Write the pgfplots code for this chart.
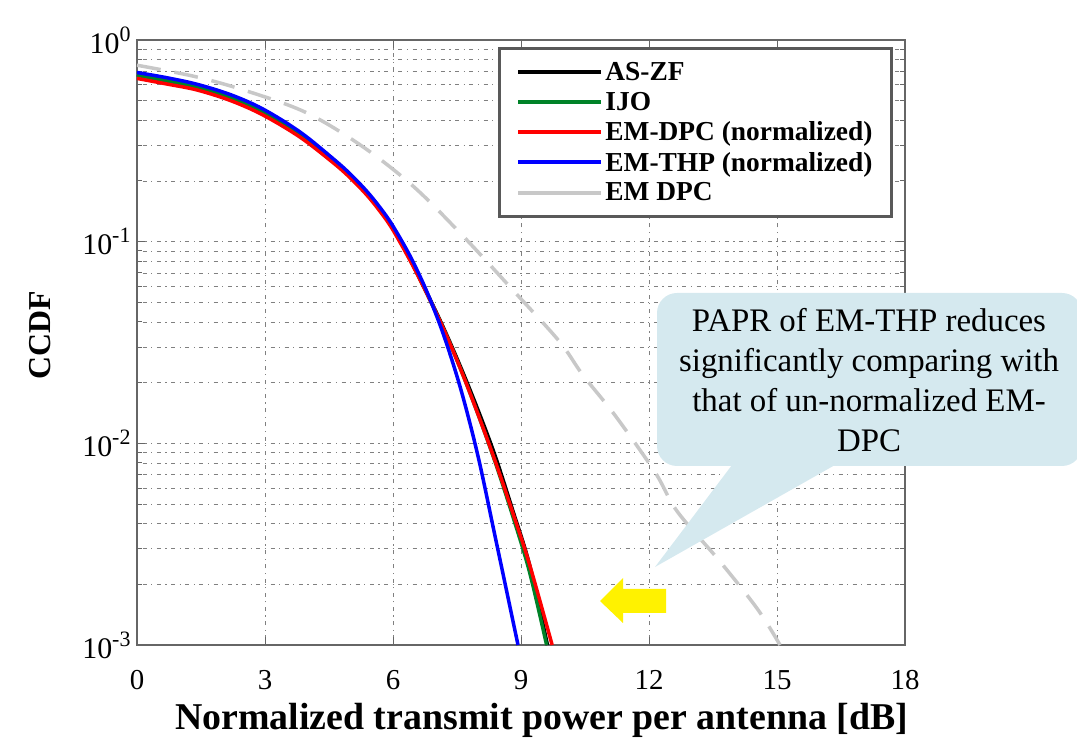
\documentclass[border=0pt]{standalone}
\usepackage{pgfplots}
\pgfplotsset{compat=1.18}
\usepackage{fontspec}
\setmainfont{Liberation Serif}
\definecolor{calloutfill}{RGB}{213,233,239}
\definecolor{mygreen}{RGB}{0,130,40}
\definecolor{mygray}{RGB}{200,200,200}
\newcommand{\tp}[1]{10\raisebox{12bp}{\fontsize{22}{22}\selectfont #1}}
\begin{document}
\begin{tikzpicture}[x=1bp,y=1bp]
\begin{axis}[
  at={(0,0)}, anchor=south west,
  width=768bp, height=605bp, scale only axis,
  xmin=0, xmax=18, ymode=log, ymin=1e-3, ymax=1,
  xtick={0,3,6,9,12,15,18},
  ytick={1e-3,1e-2,1e-1,1},
  yticklabels={\tp{-3},\tp{-2},\tp{-1},\tp{0}},
  minor ytick={2e-3,3e-3,4e-3,5e-3,6e-3,7e-3,8e-3,9e-3,2e-2,3e-2,4e-2,5e-2,6e-2,7e-2,8e-2,9e-2,0.2,0.3,0.4,0.5,0.6,0.7,0.8,0.9},
  grid=both,
  major grid style={draw=black!50, line width=0.7bp, dash pattern=on 1.2bp off 4.5bp on 4bp off 4.5bp},
  minor grid style={draw=black!50, line width=0.7bp, dash pattern=on 1.2bp off 4.5bp on 4bp off 4.5bp},
  tick align=inside,
  major tick length=8bp, minor tick length=5bp,
  every tick/.style={draw=black!60, line width=1bp},
  axis line style={draw=black!60, line width=1.5bp},
  /pgf/number format/assume math mode=true,
  xticklabel style={font=\fontsize{29}{31}\selectfont, yshift=-22bp},
  yticklabel style={font=\fontsize{30}{31}\selectfont, xshift=-3bp},
  xlabel={\bfseries Normalized transmit power per antenna [dB]},
  xlabel style={font=\fontsize{38}{40}\selectfont, at={(axis description cs:0.527,-0.124)}, anchor=center},
  ylabel={\bfseries CCDF},
  ylabel style={font=\fontsize{32}{34}\selectfont, at={(axis description cs:-0.126,0.512)}, anchor=center, rotate=0},
  legend style={at={(rel axis cs:0.984,0.988)}, anchor=north east, draw=black!65, line width=2.5bp,
    font=\fontsize{27.5}{29}\selectfont\bfseries, inner xsep=17bp, inner ysep=12bp, row sep=6bp},
  legend cell align=left,
  legend image code/.code={\draw[#1, solid, line width=4bp] (0bp,0bp) -- (83bp,0bp);},
  clip=true,
]
\addplot[black, line width=3.5bp, smooth, tension=0.55] coordinates {
(0,0.67) (0.7,0.628) (1.41,0.585) (2.2,0.518) (2.95,0.44) (3.82,0.34) (4.6,0.252) (5.0,0.212) (5.39,0.1735) (5.7,0.144) (5.98,0.1185) (6.4,0.082) (6.8,0.0555) (7.2,0.0368) (7.6,0.0235) (8.0,0.0145) (8.4,0.0086) (8.8,0.0047) (9.2,0.0025) (9.62,0.001)};
\addlegendentry{AS-ZF}
\addplot[mygreen, line width=3.5bp, smooth, tension=0.55] coordinates {
(0,0.67) (0.7,0.628) (1.41,0.585) (2.2,0.518) (2.95,0.44) (3.82,0.34) (4.6,0.252) (5.0,0.212) (5.39,0.1735) (5.7,0.144) (5.98,0.1185) (6.4,0.0815) (6.8,0.055) (7.2,0.0363) (7.6,0.0229) (8.0,0.0138) (8.4,0.008) (8.8,0.0044) (9.2,0.0023) (9.6,0.001)};
\addlegendentry{IJO}
\addplot[red, line width=3.5bp, smooth, tension=0.55] coordinates {
(0,0.645) (0.7,0.605) (1.41,0.565) (2.2,0.5) (2.95,0.425) (3.82,0.33) (4.6,0.246) (5.0,0.207) (5.39,0.17) (5.7,0.141) (5.98,0.116) (6.4,0.0807) (6.8,0.055) (7.2,0.0363) (7.6,0.0229) (8.0,0.0138) (8.4,0.0081) (8.8,0.00457) (9.2,0.00251) (9.73,0.001)};
\addlegendentry{EM-DPC (normalized)}
\addplot[blue, line width=3.5bp, smooth, tension=0.55] coordinates {
(0,0.69) (0.7,0.65) (1.41,0.603) (2.2,0.535) (2.95,0.455) (3.82,0.35) (4.6,0.2576) (5.0,0.2163) (5.39,0.1774) (5.7,0.1473) (5.98,0.1213) (6.4,0.0849) (6.8,0.0561) (7.2,0.0338) (7.6,0.0182) (8.0,0.0085) (8.4,0.0034) (8.93,0.001)};
\addlegendentry{EM-THP (normalized)}
\addplot[mygray, line width=3.5bp, dash pattern=on 24bp off 14bp, smooth, tension=0.55] coordinates {
(0,0.75) (1.4,0.656) (2.65,0.552) (3.98,0.435) (5.27,0.298) (6.49,0.187) (7.69,0.104) (8.86,0.056) (9.9,0.032) (10.45,0.0218) (11.2,0.0138) (12.14,0.0072) (12.66,0.0046) (13.66,0.0026) (14.55,0.0015) (15.07,0.001)};
\addlegendentry{EM DPC}
\end{axis}
% callout
\fill[calloutfill] (595,180) -- (518,78) -- (698,180) -- cycle;
\fill[calloutfill, rounded corners=20bp] (520,179) rectangle (945,352);
\node[align=center, font=\fontsize{33}{40}\selectfont, inner sep=0pt] at (732,265)
  {PAPR of EM-THP reduces\\ significantly comparing with\\ that of un-normalized EM-\\ DPC};
% yellow arrow
\fill[yellow] (463,44) -- (486,67) -- (486,56) -- (529,56) -- (529,32) -- (486,32) -- (486,22) -- cycle;
\pgfresetboundingbox
\path[use as bounding box] (-137,-110) rectangle (940,645);
\end{tikzpicture}
\end{document}
